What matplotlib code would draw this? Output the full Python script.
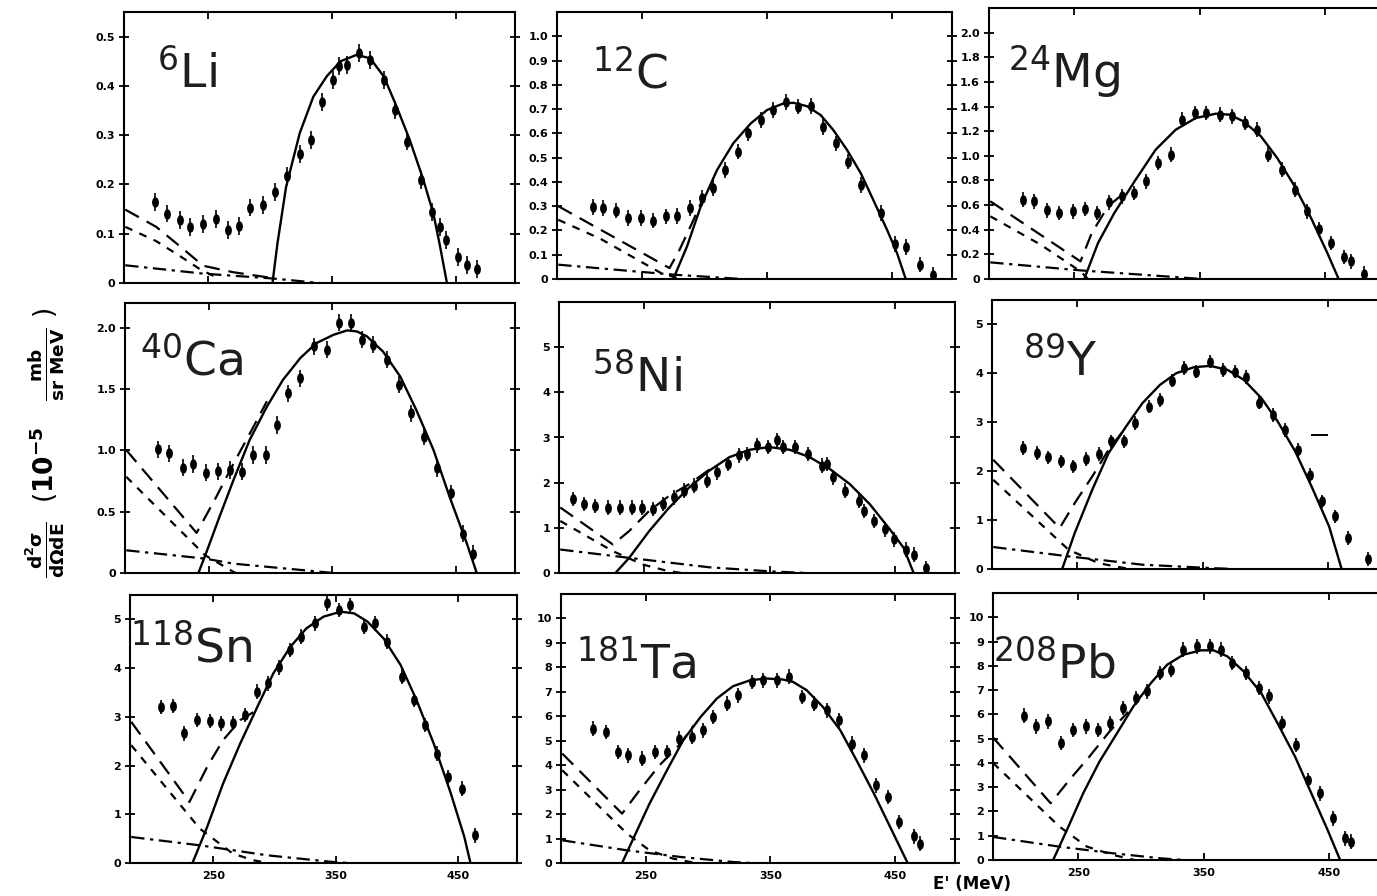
import matplotlib
matplotlib.use('Agg')
import matplotlib.pyplot as plt
from matplotlib.path import Path
from matplotlib.transforms import Affine2D

plt.rcParams['mathtext.fontset'] = 'custom'
plt.rcParams['mathtext.rm'] = 'Open Sans'
plt.rcParams['mathtext.it'] = 'Open Sans:italic'
plt.rcParams['mathtext.bf'] = 'Open Sans:bold'

# ---- 6Li ----
li_e = [207, 217, 227, 235, 246, 256, 266, 275, 284, 294, 304, 314, 324, 333, 342,
        351, 356, 362, 372, 381, 392, 401, 411, 422, 431, 437, 442, 452, 459, 467]
li_sig = [0.165, 0.141, 0.128, 0.114, 0.119, 0.130, 0.108, 0.115, 0.153, 0.159,
          0.185, 0.217, 0.262, 0.290, 0.368, 0.412, 0.440, 0.443, 0.467, 0.453,
          0.412, 0.351, 0.287, 0.209, 0.144, 0.114, 0.088, 0.053, 0.036, 0.029]
li_qe_e = [302, 306, 313, 324, 335, 346, 357, 370, 381, 392, 402, 413, 424, 432, 437, 443]
li_qe = [0.0, 0.08, 0.195, 0.304, 0.378, 0.42, 0.45, 0.463, 0.456, 0.419, 0.36, 0.29,
         0.209, 0.141, 0.08, 0.0]
li_tot_e = [183, 208, 227, 246, 270, 302]
li_tot = [0.149, 0.114, 0.075, 0.035, 0.022, 0.01]
li_b1_e = [183, 208, 227, 244, 258]
li_b1 = [0.114, 0.085, 0.055, 0.027, 0.01]
li_b2_e = [183, 246, 303, 340]
li_b2 = [0.036, 0.019, 0.009, 0.0]

# ---- 12C ----
c_e = [211, 219, 229, 239, 249, 259, 269, 278, 288, 298, 307, 316, 327, 335,
       345, 355, 365, 375, 385, 395, 405, 415, 425, 441, 452, 461, 472, 483]
c_sig = [0.296, 0.292, 0.282, 0.251, 0.251, 0.241, 0.258, 0.260, 0.292, 0.333,
         0.374, 0.449, 0.525, 0.600, 0.655, 0.696, 0.730, 0.710, 0.712, 0.627,
         0.559, 0.484, 0.388, 0.271, 0.145, 0.132, 0.059, 0.018]
c_qe_e = [275, 286, 297, 310, 323, 337, 350, 363, 371, 382, 393, 403, 414, 425, 435, 446, 454, 461]
c_qe = [0.0, 0.134, 0.299, 0.449, 0.559, 0.641, 0.696, 0.723, 0.726, 0.712, 0.675,
        0.614, 0.532, 0.436, 0.326, 0.203, 0.107, 0.0]
c_tot_e = [183, 272, 280, 290, 300]
c_tot = [0.30, 0.045, 0.12, 0.23, 0.345]
c_b1_e = [183, 217, 265, 281]
c_b1 = [0.244, 0.165, 0.025, 0.0]
c_b2_e = [183, 243, 275, 318, 330]
c_b2 = [0.059, 0.032, 0.018, 0.004, 0.0]

# ---- 24Mg ----
mg_e = [209, 218, 228, 238, 249, 259, 268, 278, 288, 298, 307, 317, 327, 336, 346,
        355, 366, 376, 386, 396, 405, 416, 426, 436, 445, 455, 465, 471, 481]
mg_sig = [0.644, 0.631, 0.558, 0.536, 0.549, 0.568, 0.536, 0.622, 0.671, 0.698,
          0.793, 0.942, 1.009, 1.294, 1.348, 1.348, 1.334, 1.321, 1.267, 1.212,
          1.009, 0.888, 0.725, 0.549, 0.406, 0.292, 0.179, 0.143, 0.043]
mg_qe_e = [258, 269, 282, 299, 315, 331, 347, 363, 374, 385, 399, 412, 426, 439, 452, 461]
mg_qe = [0.0, 0.292, 0.536, 0.806, 1.05, 1.212, 1.307, 1.342, 1.334, 1.28, 1.158,
         0.982, 0.752, 0.495, 0.211, 0.0]
mg_tot_e = [183, 255, 264, 277, 290]
mg_tot = [0.631, 0.143, 0.373, 0.59, 0.70]
mg_b1_e = [183, 223, 255, 261]
mg_b1 = [0.509, 0.28, 0.062, 0.0]
mg_b2_e = [183, 255, 304, 352]
mg_b2 = [0.135, 0.07, 0.035, 0.0]

# ---- 40Ca ----
ca_e = [209, 218, 229, 237, 248, 257, 267, 277, 286, 296, 305, 314, 324, 335,
        346, 355, 365, 374, 383, 394, 404, 414, 424, 435, 446, 456, 464]
ca_sig = [1.007, 0.975, 0.858, 0.888, 0.817, 0.830, 0.839, 0.825, 0.961, 0.961,
          1.206, 1.465, 1.587, 1.846, 1.819, 2.04, 2.04, 1.90, 1.86, 1.737,
          1.533, 1.301, 1.111, 0.852, 0.648, 0.321, 0.158]
ca_qe_e = [241.5, 248, 259, 270, 283, 297, 310, 324, 337, 351, 362, 370, 378,
           391, 405, 418, 432, 445, 459, 467]
ca_qe = [0.0, 0.17, 0.47, 0.76, 1.084, 1.356, 1.574, 1.751, 1.873, 1.941, 1.977,
         1.968, 1.928, 1.805, 1.601, 1.329, 1.002, 0.621, 0.24, 0.0]
ca_tot_e = [183, 240, 256, 270, 286, 297]
ca_tot = [1.002, 0.327, 0.621, 0.893, 1.19, 1.40]
ca_b1_e = [183, 247, 270, 272]
ca_b1 = [0.784, 0.144, 0.008, 0.0]
ca_b2_e = [183, 247, 270, 351]
ca_b2 = [0.185, 0.117, 0.076, 0.0]

# ---- 58Ni ----
ni_e = [193, 202, 211, 221, 231, 240, 248, 257, 265, 274, 282, 290, 300, 308, 317,
        326, 332, 340, 349, 356, 361, 370, 381, 392, 396, 401, 410, 421, 425, 433,
        442, 449, 459, 465, 475]
ni_sig = [1.636, 1.524, 1.487, 1.450, 1.450, 1.450, 1.450, 1.413, 1.524, 1.673,
          1.822, 1.933, 2.045, 2.23, 2.416, 2.602, 2.64, 2.825, 2.788, 2.937,
          2.788, 2.788, 2.639, 2.379, 2.416, 2.119, 1.822, 1.599, 1.375, 1.152,
          0.967, 0.743, 0.520, 0.409, 0.112]
ni_qe_e = [227, 238, 254, 270, 286, 302, 318, 334, 350, 366, 382, 398, 414, 430, 446, 457, 465]
ni_qe = [0.0, 0.335, 0.929, 1.450, 1.896, 2.268, 2.565, 2.729, 2.788, 2.729, 2.565,
         2.305, 1.970, 1.524, 0.967, 0.558, 0.0]
ni_tot_e = [183, 225, 238, 254, 270, 286, 302]
ni_tot = [1.450, 0.632, 0.929, 1.375, 1.710, 1.970, 2.29]
ni_b1_e = [183, 225, 249, 268, 280]
ni_b1 = [1.152, 0.483, 0.186, 0.05, 0.0]
ni_b2_e = [183, 238, 302, 350, 380]
ni_b2 = [0.52, 0.335, 0.126, 0.037, 0.0]

# ---- 89Y ----
y_e = [207, 218, 227, 237, 247, 257, 267, 277, 287, 296, 307, 316, 326, 335,
       345, 356, 366, 376, 385, 395, 406, 416, 426, 436, 445, 456, 466, 482]
y_sig = [2.471, 2.369, 2.280, 2.199, 2.097, 2.246, 2.355, 2.607, 2.607, 2.982,
         3.322, 3.458, 3.853, 4.105, 4.037, 4.241, 4.071, 4.037, 3.921, 3.404,
         3.152, 2.845, 2.437, 1.926, 1.382, 1.076, 0.633, 0.204]
y_qe_e = [238, 248, 262, 275, 289, 302, 316, 329, 343, 356, 370, 383, 397, 410, 424, 437, 451, 461]
y_qe = [0.0, 0.735, 1.62, 2.369, 2.914, 3.390, 3.764, 4.003, 4.125, 4.153, 4.071,
        3.867, 3.492, 3.016, 2.403, 1.688, 0.871, 0.0]
y_tot_e = [183, 236, 248, 262, 275, 286]
y_tot = [2.233, 0.837, 1.348, 1.892, 2.437, 2.80]
y_b1_e = [183, 243, 267, 281, 292]
y_b1 = [1.824, 0.395, 0.12, 0.05, 0.0]
y_b2_e = [183, 243, 302, 356, 375]
y_b2 = [0.449, 0.259, 0.088, 0.02, 0.0]
y_mark_e = [437, 449]
y_mark = [2.74, 2.74]

# ---- 118Sn ----
sn_e = [207, 217, 226, 237, 247, 256, 266, 276, 286, 295, 304, 313, 322, 333,
        343, 353, 362, 373, 382, 392, 404, 414, 423, 433, 442, 453, 464]
sn_sig = [3.205, 3.219, 2.658, 2.932, 2.918, 2.863, 2.877, 3.034, 3.514, 3.685,
          4.014, 4.37, 4.644, 4.918, 5.329, 5.192, 5.295, 4.849, 4.918, 4.541,
          3.822, 3.342, 2.829, 2.247, 1.767, 1.527, 0.568]
sn_qe_e = [233, 245, 258, 272, 286, 299, 313, 326, 340, 354, 365, 376, 389, 403,
           416, 430, 444, 455, 460]
sn_qe = [0.0, 0.74, 1.63, 2.452, 3.205, 3.89, 4.438, 4.815, 5.055, 5.158, 5.123,
         4.952, 4.61, 4.062, 3.342, 2.452, 1.425, 0.534, 0.0]
sn_tot_e = [183, 230.5, 245, 258, 272, 283]
sn_tot = [2.897, 1.253, 1.973, 2.521, 2.932, 3.10]
sn_b1_e = [183, 239, 266, 283, 295]
sn_b1 = [2.418, 0.705, 0.192, 0.055, 0.0]
sn_b2_e = [183, 239, 294, 348, 360]
sn_b2 = [0.534, 0.363, 0.158, 0.02, 0.0]

# ---- 181Ta ----
ta_e = [208, 218, 228, 236, 247, 257, 267, 277, 287, 296, 304, 315, 324, 335,
        344, 355, 365, 375, 385, 395, 405, 415, 425, 435, 444, 453, 465, 470]
ta_sig = [5.498, 5.362, 4.543, 4.407, 4.270, 4.543, 4.543, 5.089, 5.157, 5.430,
          5.975, 6.521, 6.862, 7.408, 7.476, 7.476, 7.613, 6.794, 6.521, 6.248,
          5.839, 4.884, 4.407, 3.179, 2.701, 1.678, 1.091, 0.791]
ta_qe_e = [231, 240, 253, 267, 280, 294, 307, 320, 334, 347, 360, 368, 379, 392,
           406, 419, 433, 446, 460]
ta_qe = [0.0, 1.0, 2.428, 3.793, 5.02, 5.975, 6.726, 7.231, 7.476, 7.544, 7.503,
         7.408, 7.067, 6.385, 5.43, 4.202, 2.838, 1.473, 0.0]
ta_tot_e = [183, 231, 245, 261, 278, 288]
ta_tot = [4.475, 2.019, 2.974, 3.997, 4.884, 5.6]
ta_b1_e = [183, 235, 253, 272, 290]
ta_b1 = [3.793, 1.2, 0.518, 0.177, 0.0]
ta_b2_e = [183, 235, 278, 320, 335]
ta_b2 = [0.928, 0.518, 0.246, 0.041, 0.0]

# ---- 208Pb ----
pb_e = [207, 216, 226, 236, 246, 256, 266, 275, 286, 296, 305, 315, 324, 334,
        345, 355, 364, 373, 384, 394, 402, 413, 424, 433, 443, 453, 463, 468]
pb_sig = [5.942, 5.502, 5.708, 4.814, 5.364, 5.502, 5.364, 5.640, 6.259, 6.671,
          6.946, 7.703, 7.840, 8.666, 8.803, 8.803, 8.666, 8.116, 7.703, 7.084,
          6.740, 5.640, 4.746, 3.301, 2.751, 1.719, 0.894, 0.757]
pb_qe_e = [230, 241, 254, 267, 281, 294, 308, 321, 334, 348, 358, 369, 382, 396,
           409, 423, 436, 449, 459]
pb_qe = [0.0, 1.238, 2.751, 4.058, 5.227, 6.327, 7.29, 8.047, 8.459, 8.638, 8.638,
         8.391, 7.772, 6.878, 5.64, 4.264, 2.751, 1.238, 0.0]
pb_tot_e = [182, 228, 243, 259, 275, 290]
pb_tot = [5.05, 2.338, 3.301, 4.264, 5.296, 6.1]
pb_b1_e = [182, 235, 257, 278, 295]
pb_b1 = [4.0, 1.376, 0.55, 0.206, 0.0]
pb_b2_e = [182, 235, 278, 316, 335]
pb_b2 = [0.95, 0.55, 0.275, 0.069, 0.0]

nuclei = [r'$\mathregular{^{6}Li}$', r'$\mathregular{^{12}C}$', r'$\mathregular{^{24}Mg}$',
          r'$\mathregular{^{40}Ca}$', r'$\mathregular{^{58}Ni}$', r'$\mathregular{^{89}Y}$',
          r'$\mathregular{^{118}Sn}$', r'$\mathregular{^{181}Ta}$', r'$\mathregular{^{208}Pb}$']
y_max = [0.55, 1.1, 2.2, 2.2, 6.0, 5.5, 5.5, 11, 11]
y_ticks = [[0, 0.1, 0.2, 0.3, 0.4, 0.5],
           [0, 0.1, 0.2, 0.3, 0.4, 0.5, 0.6, 0.7, 0.8, 0.9, 1.0],
           [0, 0.2, 0.4, 0.6, 0.8, 1.0, 1.2, 1.4, 1.6, 1.8, 2.0],
           [0, 0.5, 1.0, 1.5, 2.0],
           [0, 1, 2, 3, 4, 5],
           [0, 1, 2, 3, 4, 5],
           [0, 1, 2, 3, 4, 5],
           [0, 1, 2, 3, 4, 5, 6, 7, 8, 9, 10],
           [0, 1, 2, 3, 4, 5, 6, 7, 8, 9, 10]]
y_ticklabels = [['0', '0.1', '0.2', '0.3', '0.4', '0.5'],
                ['0', '0.1', '0.2', '0.3', '0.4', '0.5', '0.6', '0.7', '0.8', '0.9', '1.0'],
                ['0', '0.2', '0.4', '0.6', '0.8', '1.0', '1.2', '1.4', '1.6', '1.8', '2.0'],
                ['0', '0.5', '1.0', '1.5', '2.0'],
                ['0', '1', '2', '3', '4', '5'],
                ['0', '1', '2', '3', '4', '5'],
                ['0', '1', '2', '3', '4', '5'],
                ['0', '1', '2', '3', '4', '5', '6', '7', '8', '9', '10'],
                ['0', '1', '2', '3', '4', '5', '6', '7', '8', '9', '10']]
err = [0.018, 0.032, 0.06, 0.07, 0.16, 0.14, 0.15, 0.3, 0.3]
x_ticks = [250, 350, 450]

data = [(li_e, li_sig, li_qe_e, li_qe, li_tot_e, li_tot, li_b1_e, li_b1, li_b2_e, li_b2),
        (c_e, c_sig, c_qe_e, c_qe, c_tot_e, c_tot, c_b1_e, c_b1, c_b2_e, c_b2),
        (mg_e, mg_sig, mg_qe_e, mg_qe, mg_tot_e, mg_tot, mg_b1_e, mg_b1, mg_b2_e, mg_b2),
        (ca_e, ca_sig, ca_qe_e, ca_qe, ca_tot_e, ca_tot, ca_b1_e, ca_b1, ca_b2_e, ca_b2),
        (ni_e, ni_sig, ni_qe_e, ni_qe, ni_tot_e, ni_tot, ni_b1_e, ni_b1, ni_b2_e, ni_b2),
        (y_e, y_sig, y_qe_e, y_qe, y_tot_e, y_tot, y_b1_e, y_b1, y_b2_e, y_b2),
        (sn_e, sn_sig, sn_qe_e, sn_qe, sn_tot_e, sn_tot, sn_b1_e, sn_b1, sn_b2_e, sn_b2),
        (ta_e, ta_sig, ta_qe_e, ta_qe, ta_tot_e, ta_tot, ta_b1_e, ta_b1, ta_b2_e, ta_b2),
        (pb_e, pb_sig, pb_qe_e, pb_qe, pb_tot_e, pb_tot, pb_b1_e, pb_b1, pb_b2_e, pb_b2)]

# panel boxes in pixels: left, top, width, height
W, H = 1377, 896
boxes = [(124, 12, 391, 271), (557, 12, 395, 267), (989, 8, 396, 271),
         (125, 303, 390, 270), (559, 302, 396, 271), (992, 300, 396, 269),
         (130, 595, 387, 268), (561, 594, 394, 269), (993, 593, 396, 267)]
# label anchor (left, baseline) in pixels
label_pos = [(157, 87), (592, 88), (1008, 87), (140, 375), (592, 391), (1023, 375),
             (130, 662), (576, 678), (993, 678)]

fig = plt.figure(figsize=(W / 100, H / 100), dpi=100)
dot = Path.unit_circle().transformed(Affine2D().scale(0.6, 1.0))

for i, (e, s, qe_e, qe, tot_e, tot, b1_e, b1, b2_e, b2) in enumerate(data):
    l, t, w, h = boxes[i]
    ax = fig.add_axes([l / W, 1 - (t + h) / H, w / W, h / H])
    ax.set_xlim(182, 498)
    ax.set_ylim(0, y_max[i])

    ax.plot(qe_e, qe, color='k', lw=1.7, zorder=2)
    ax.plot(tot_e, tot, color='k', lw=1.6, dashes=(7, 4), zorder=2)
    ax.plot(b1_e, b1, color='k', lw=1.6, dashes=(3.5, 3.5), zorder=2)
    ax.plot(b2_e, b2, color='k', lw=1.6, dashes=(6, 2.5, 1.5, 2.5), zorder=2)

    ax.errorbar(e, s, yerr=err[i], fmt='none', ecolor='k', elinewidth=1.2,
                capsize=0, zorder=3)
    ax.plot(e, s, ls='none', marker=dot, ms=6.5, color='k', zorder=4)

    if i == 5:
        ax.plot(y_mark_e, y_mark, color='k', lw=1.4)

    ax.set_xticks(x_ticks)
    ax.set_yticks(y_ticks[i])
    ax.set_yticklabels(y_ticklabels[i], fontweight='bold', fontsize=8)
    if i >= 6:
        ax.set_xticklabels([str(v) for v in x_ticks], fontweight='bold', fontsize=8)
    else:
        ax.tick_params(axis='x', labelbottom=False)
    ax.tick_params(axis='x', direction='in', length=5, width=1.3, top=True, pad=6)
    ax.tick_params(axis='y', direction='inout', length=7, width=1.3, right=True, pad=3)
    for sp in ax.spines.values():
        sp.set_linewidth(1.5)

    lx, ly = label_pos[i]
    fig.text(lx / W, 1 - ly / H, nuclei[i], fontsize=34, color='#1e1e1e',
             ha='left', va='baseline')

fig.text(45 / W, 1 - 443 / H,
         r'$\frac{\mathbf{d^2\sigma}}{\mathbf{d\Omega dE}}\ \ (\mathbf{10^{-5}}\ \ \ \frac{\mathbf{mb}}{\mathbf{sr\ MeV}}\ )$',
         rotation=90, ha='center', va='center', fontsize=19, math_fontfamily='dejavusans')
fig.text(972 / W, 1 - 884 / H, "E' (MeV)", fontsize=12, fontweight='bold',
         ha='center', va='center')

fig.savefig('out.png', dpi=100)
